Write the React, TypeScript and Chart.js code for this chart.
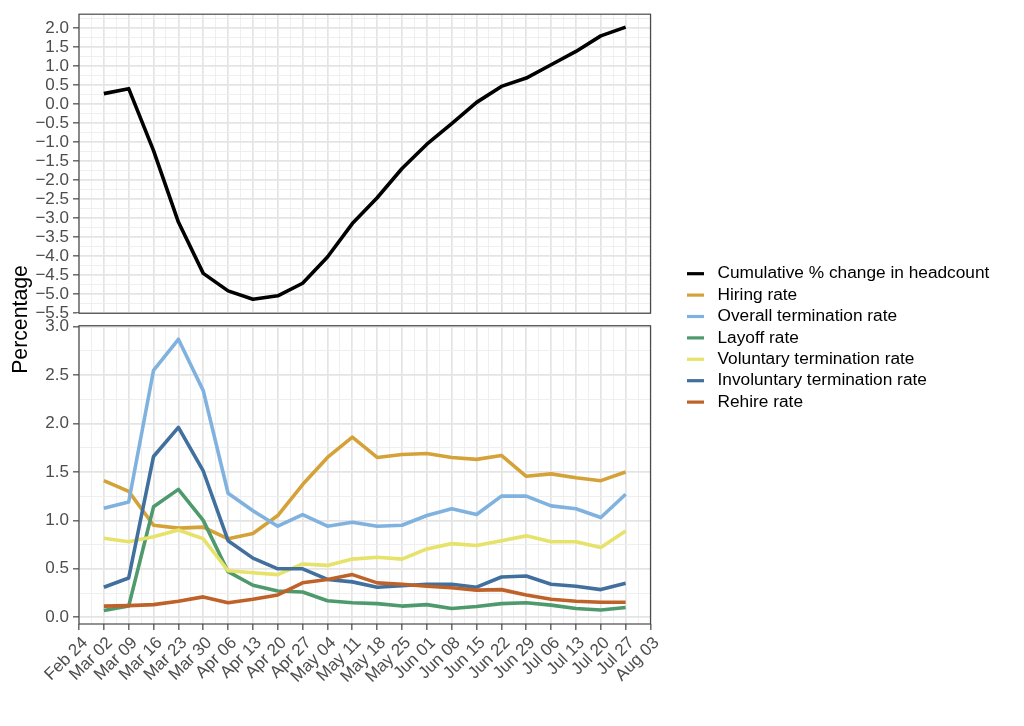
import { useEffect, useRef } from "react";
import { Chart, registerables } from "chart.js";

Chart.register(...registerables);

// Week-starting dates on the shared x axis (index 0 = Feb 24).
const WEEKS = [
  "Feb 24", "Mar 02", "Mar 09", "Mar 16", "Mar 23", "Mar 30", "Apr 06", "Apr 13",
  "Apr 20", "Apr 27", "May 04", "May 11", "May 18", "May 25", "Jun 01", "Jun 08",
  "Jun 15", "Jun 22", "Jun 29", "Jul 06", "Jul 13", "Jul 20", "Jul 27", "Aug 03",
];
// Observations run weekly from Mar 02 (index 1) to Jul 27 (index 22).
const FIRST_WEEK = 1;

// Top panel: cumulative % change in headcount.
const HEADCOUNT_CHANGE = [
  0.28, 0.41, -1.22, -3.1, -4.45, -4.91, -5.13, -5.04, -4.71, -4.02, -3.14,
  -2.46, -1.69, -1.05, -0.51, 0.05, 0.47, 0.69, 1.04, 1.39, 1.8, 2.03,
];

// Bottom panel: weekly rates (%).
const HIRING_RATE = [
  1.41, 1.3, 0.95, 0.92, 0.93, 0.81, 0.865, 1.05, 1.37, 1.65, 1.86,
  1.65, 1.68, 1.69, 1.65, 1.63, 1.67, 1.455, 1.48, 1.44, 1.41, 1.5,
];
const OVERALL_TERMINATION = [
  1.125, 1.19, 2.55, 2.87, 2.34, 1.28, 1.1, 0.94, 1.06, 0.94, 0.98,
  0.94, 0.95, 1.05, 1.12, 1.06, 1.25, 1.25, 1.15, 1.12, 1.03, 1.27,
];
const LAYOFF_RATE = [
  0.07, 0.115, 1.14, 1.32, 1.0, 0.47, 0.33, 0.27, 0.26, 0.17, 0.15,
  0.14, 0.115, 0.13, 0.09, 0.11, 0.14, 0.15, 0.125, 0.09, 0.075, 0.1,
];
const VOLUNTARY_TERMINATION = [
  0.815, 0.78, 0.83, 0.9, 0.81, 0.48, 0.46, 0.44, 0.55, 0.535, 0.6,
  0.62, 0.6, 0.705, 0.76, 0.74, 0.79, 0.84, 0.78, 0.78, 0.72, 0.89,
];
const INVOLUNTARY_TERMINATION = [
  0.31, 0.405, 1.66, 1.96, 1.51, 0.79, 0.61, 0.5, 0.5, 0.39, 0.365,
  0.31, 0.325, 0.34, 0.34, 0.31, 0.415, 0.425, 0.34, 0.32, 0.285, 0.35,
];
const REHIRE_RATE = [
  0.115, 0.12, 0.13, 0.165, 0.21, 0.15, 0.185, 0.23, 0.355, 0.39, 0.44,
  0.355, 0.34, 0.32, 0.305, 0.28, 0.285, 0.23, 0.185, 0.165, 0.155, 0.155,
];

const SERIES_LABELS = [
  "Cumulative % change in headcount",
  "Hiring rate",
  "Overall termination rate",
  "Layoff rate",
  "Voluntary termination rate",
  "Involuntary termination rate",
  "Rehire rate",
];
const SERIES_VALUES = [
  HEADCOUNT_CHANGE,
  HIRING_RATE,
  OVERALL_TERMINATION,
  LAYOFF_RATE,
  VOLUNTARY_TERMINATION,
  INVOLUNTARY_TERMINATION,
  REHIRE_RATE,
];
const SERIES_COLORS = [
  "#000000",
  "#D5A23A",
  "#80B2E0",
  "#4F9A6D",
  "#E6E26A",
  "#41709F",
  "#BF6229",
];

// Axis breaks and limits for each panel.
const TOP_BREAKS = [-5.5, -5, -4.5, -4, -3.5, -3, -2.5, -2, -1.5, -1, -0.5, 0, 0.5, 1, 1.5, 2];
const TOP_LIMITS = [-5.5, 2.37];
const BOTTOM_BREAKS = [0, 0.5, 1, 1.5, 2, 2.5, 3];
const BOTTOM_LIMITS = [-0.07, 3.01];
const X_BREAKS = WEEKS.map((_, i) => i);

const FONT_FAMILY = '"Liberation Sans", Arial, Helvetica, sans-serif';
const TEXT_GREY = "#4D4D4D";
const GRID_MAJOR = "#E4E4E4";
const GRID_MINOR = "#EDEDED";
const FRAME = "#4A4A4A";
const AXIS_WIDTH = 75;
const X_AXIS_HEIGHT = 102;

const near = (a: number, b: number) => Math.abs(a - b) < 1e-9;

// Major breaks plus a minor line halfway to the next break.
function withMinors(breaks: number[], max: number, step: number) {
  const out: number[] = [];
  breaks.forEach((b) => {
    out.push(b);
    if (b + step / 2 <= max + 1e-9) out.push(b + step / 2);
  });
  return out.sort((a, b) => a - b);
}

const fmt = (v: number) => v.toFixed(1).replace("-", "\u2212");

function gridStyle(isMajor: (v: number) => boolean) {
  return {
    color: (ctx: any) => (ctx.tick && isMajor(ctx.tick.value) ? GRID_MAJOR : GRID_MINOR),
    lineWidth: (ctx: any) => (ctx.tick && isMajor(ctx.tick.value) ? 1.7 : 0.9),
    tickColor: (ctx: any) => (ctx.tick && isMajor(ctx.tick.value) ? "#333333" : "rgba(0,0,0,0)"),
    tickWidth: 1.1,
    tickLength: 6,
  };
}

function panelAxis(breaks: number[], limits: number[], weight: number, stackWeight: number) {
  const all = withMinors(breaks, limits[1], 0.5);
  const isMajor = (v: number) => breaks.some((b) => near(b, v));
  return {
    type: "linear" as const,
    axis: "y" as const,
    position: "left" as const,
    stack: "panels",
    weight,
    stackWeight,
    min: limits[0],
    max: limits[1],
    afterBuildTicks: (axis: any) => {
      axis.ticks = all.map((value) => ({ value }));
    },
    afterFit: (axis: any) => {
      axis.width = AXIS_WIDTH;
    },
    ticks: {
      autoSkip: false,
      padding: 4,
      color: TEXT_GREY,
      font: { family: FONT_FAMILY, size: 17 },
      callback: (v: any) => (isMajor(Number(v)) ? fmt(Number(v)) : ""),
    },
    grid: gridStyle(isMajor),
    border: { display: false },
  };
}

// Blanks the strip between panels, frames both panels and draws the legend.
const panelPlugin = {
  id: "panelFrames",
  beforeDatasetsDraw(chart: any) {
    const { ctx, chartArea } = chart;
    const top = chart.scales.yTop;
    const bot = chart.scales.yBot;
    ctx.save();
    ctx.fillStyle = "#FFFFFF";
    ctx.fillRect(chartArea.left - 2, top.bottom, chartArea.right - chartArea.left + 4, bot.top - top.bottom);
    ctx.restore();
  },
  afterDatasetsDraw(chart: any) {
    const { ctx, chartArea } = chart;
    ctx.save();
    ctx.strokeStyle = FRAME;
    ctx.lineWidth = 1.2;
    [chart.scales.yTop, chart.scales.yBot].forEach((s: any) => {
      ctx.strokeRect(chartArea.left, s.top, chartArea.right - chartArea.left, s.bottom - s.top);
    });
    ctx.restore();
  },
  afterDraw(chart: any) {
    const { ctx, chartArea } = chart;
    const x0 = chartArea.right + 36.5;
    const y0 = chartArea.top + 259.5;
    ctx.save();
    ctx.font = `17.3px ${FONT_FAMILY}`;
    ctx.textBaseline = "middle";
    ctx.textAlign = "left";
    chart.data.datasets.forEach((ds: any, i: number) => {
      const y = y0 + i * 21.4;
      ctx.strokeStyle = ds.borderColor;
      ctx.lineWidth = 3.2;
      ctx.beginPath();
      ctx.moveTo(x0, y);
      ctx.lineTo(x0 + 17, y);
      ctx.stroke();
      ctx.fillStyle = "#000000";
      ctx.fillText(ds.label, x0 + 30.5, y);
    });
    ctx.restore();
  },
};

export default function App() {
  const canvasRef = useRef<HTMLCanvasElement | null>(null);

  useEffect(() => {
    const canvas = canvasRef.current;
    if (!canvas) return;

    const xTicks = withMinors(X_BREAKS, WEEKS.length - 1, 1);
    const isWeek = (v: number) => near(v, Math.round(v));

    const datasets = SERIES_VALUES.map((values, i) => ({
      label: SERIES_LABELS[i],
      data: values.map((y, k) => ({ x: FIRST_WEEK + k, y })),
      borderColor: SERIES_COLORS[i],
      backgroundColor: SERIES_COLORS[i],
      borderWidth: 3.6,
      pointRadius: 0,
      fill: false,
      xAxisID: "x",
      yAxisID: i === 0 ? "yTop" : "yBot",
      order: SERIES_VALUES.length - 1 - i,
    }));

    const chart = new Chart(canvas, {
      type: "line",
      data: { datasets },
      options: {
        animation: false,
        responsive: false,
        devicePixelRatio: 1,
        layout: { padding: { left: 4, top: 10.7, right: 373.5, bottom: 0 } },
        elements: {
          line: { tension: 0, borderJoinStyle: "round", borderCapStyle: "butt" },
          point: { radius: 0 },
        },
        plugins: {
          legend: { display: false },
          tooltip: { enabled: false },
        },
        scales: {
          x: {
            type: "linear",
            position: "bottom",
            min: 0,
            max: WEEKS.length - 1,
            afterBuildTicks: (axis: any) => {
              axis.ticks = xTicks.map((value) => ({ value }));
            },
            afterFit: (axis: any) => {
              axis.height = X_AXIS_HEIGHT;
            },
            ticks: {
              autoSkip: false,
              minRotation: 45,
              maxRotation: 45,
              padding: 3,
              labelOffset: 6,
              color: TEXT_GREY,
              font: { family: FONT_FAMILY, size: 17 },
              callback: (v: any) => (isWeek(Number(v)) ? WEEKS[Math.round(Number(v))] : ""),
            },
            grid: gridStyle(isWeek),
            border: { display: false },
          },
          yTop: panelAxis(TOP_BREAKS, TOP_LIMITS, 3, 300.8),
          yGap: {
            type: "linear",
            axis: "y",
            position: "left",
            stack: "panels",
            weight: 2,
            stackWeight: 12.5,
            min: 0,
            max: 1,
            afterFit: (axis: any) => {
              axis.width = AXIS_WIDTH;
            },
            ticks: { display: false },
            grid: { display: false, drawTicks: false },
            border: { display: false },
            title: {
              display: true,
              text: "Percentage",
              color: "#000000",
              font: { family: FONT_FAMILY, size: 21.25 },
              padding: { top: 4, bottom: 4 },
            },
          },
          yBot: panelAxis(BOTTOM_BREAKS, BOTTOM_LIMITS, 1, 300),
        },
      } as any,
      plugins: [panelPlugin],
    });

    return () => chart.destroy();
  }, []);

  return (
    <div style={{ position: "fixed", left: 0, top: 0, width: 1024, height: 726, background: "#FFFFFF" }}>
      <canvas ref={canvasRef} width={1024} height={726} style={{ display: "block" }} />
    </div>
  );
}
